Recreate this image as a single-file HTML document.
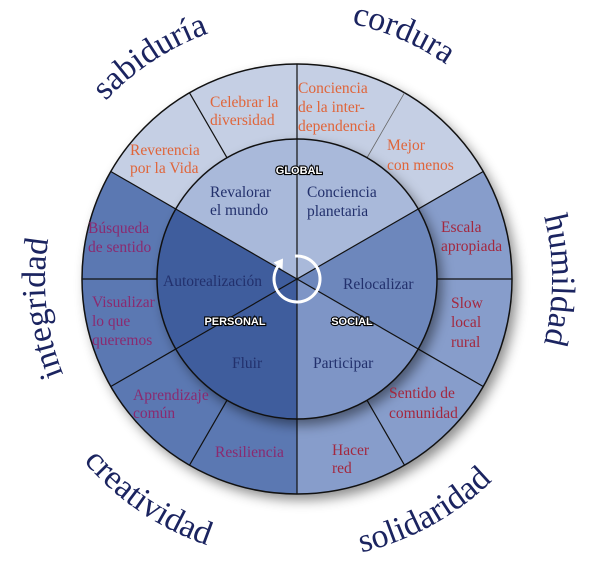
<!DOCTYPE html>
<html><head><meta charset="utf-8"><style>
html,body{margin:0;padding:0;background:#fff;}
svg{display:block;}
.o{font-family:"Liberation Serif",serif;font-size:15.5px;fill:#e0653a;}
.p{font-family:"Liberation Serif",serif;font-size:15.5px;fill:#8a2a70;}
.r{font-family:"Liberation Serif",serif;font-size:15.5px;fill:#a3283f;}
.n{font-family:"Liberation Serif",serif;font-size:15.5px;fill:#22306c;}
.b{font-family:"Liberation Sans",sans-serif;font-size:11px;font-weight:bold;fill:#fff;stroke:#000;stroke-width:2.2px;paint-order:stroke;text-anchor:middle;}
.w{font-family:"Liberation Serif",serif;font-size:34px;fill:#1b2460;}
</style></head><body>
<svg width="600" height="568" viewBox="0 0 600 568" xmlns="http://www.w3.org/2000/svg">
<defs>
<filter id="sh" x="-20%" y="-20%" width="150%" height="150%"><feDropShadow dx="5" dy="6" stdDeviation="6" flood-color="#000" flood-opacity="0.45"/></filter>
<path id="pTop" d="M 35 280 A 262 262 0 0 1 559 280"/>
<path id="pR" d="M 297 25 A 255 255 0 0 1 297 535"/>
<path id="pL" d="M 297 532 A 252 252 0 0 1 297 28"/>
<path id="pBot" d="M 17 280 A 280 280 0 0 0 577 280"/>
</defs>
<g id="wheel">
<circle cx="297" cy="279" r="215" fill="#c5cfe4" filter="url(#sh)"/>
<path d="M297 279 L110.8 171.5 A215 215 0 0 0 297 494 Z" fill="#5b78b2"/>
<path d="M297 279 L297 494 A215 215 0 0 0 483.2 171.5 Z" fill="#879dcb"/>
<circle cx="297" cy="279" r="215" fill="none" stroke="#111" stroke-width="1.5"/>
<g stroke="#111" stroke-width="1.2">
<line x1="297" y1="64" x2="297" y2="494"/>
<line x1="82" y1="279" x2="512" y2="279"/>
<line x1="189.5" y1="92.8" x2="404.5" y2="465.2"/>
<line x1="404.5" y1="92.8" x2="297" y2="279" stroke="#666" stroke-width="0.8"/>
<line x1="297" y1="279" x2="189.5" y2="465.2"/>
<line x1="110.8" y1="171.5" x2="483.2" y2="386.5"/>
<line x1="483.2" y1="171.5" x2="110.8" y2="386.5"/>
</g>
<circle cx="297" cy="279" r="140" fill="#a9b9da" filter="url(#sh)"/>
<path d="M297 279 L175.8 209 A140 140 0 0 0 297 419 Z" fill="#3f5d9d"/>
<path d="M297 279 L297 419 A140 140 0 0 0 418.2 349 Z" fill="#7e95c6"/>
<path d="M297 279 L418.2 349 A140 140 0 0 0 418.2 209 Z" fill="#6d87bc"/>
<path d="M297 279 L418.2 209 A140 140 0 0 0 175.8 209 Z" fill="#a9b9da"/>
<circle cx="297" cy="279" r="140" fill="none" stroke="#111" stroke-width="1.5"/>
<g stroke="#111" stroke-width="1.2">
<line x1="297" y1="139" x2="297" y2="419"/>
<line x1="175.8" y1="209" x2="418.2" y2="349"/>
<line x1="418.2" y1="209" x2="175.8" y2="349"/>
</g>
<path d="M278.2 265.8 A23 23 0 1 0 295 256.1" fill="none" stroke="#fff" stroke-width="3"/>
<path d="M283 258.5 L273.5 262.5 L282.5 269.5 Z" fill="#fff"/>
</g>
<text class="o"><tspan x="210" y="107">Celebrar la</tspan><tspan x="210" y="125">diversidad</tspan></text>
<text class="o"><tspan x="298" y="93">Conciencia</tspan><tspan x="298" y="112">de la inter-</tspan><tspan x="298" y="131">dependencia</tspan></text>
<text class="o"><tspan x="387" y="150">Mejor</tspan><tspan x="387" y="170">con menos</tspan></text>
<text class="o"><tspan x="130" y="155">Reverencia</tspan><tspan x="130" y="173">por la Vida</tspan></text>
<text class="p"><tspan x="88" y="233">Búsqueda</tspan><tspan x="88" y="252">de sentido</tspan></text>
<text class="p"><tspan x="92" y="307">Visualizar</tspan><tspan x="92" y="326">lo que</tspan><tspan x="92" y="345">queremos</tspan></text>
<text class="p"><tspan x="133" y="400">Aprendizaje</tspan><tspan x="133" y="418">común</tspan></text>
<text class="p"><tspan x="215" y="457">Resiliencia</tspan></text>
<text class="r"><tspan x="332" y="455">Hacer</tspan><tspan x="332" y="473">red</tspan></text>
<text class="r"><tspan x="389" y="398">Sentido de</tspan><tspan x="389" y="418">comunidad</tspan></text>
<text class="r"><tspan x="451" y="308">Slow</tspan><tspan x="451" y="327">local</tspan><tspan x="451" y="347">rural</tspan></text>
<text class="r"><tspan x="441" y="232">Escala</tspan><tspan x="441" y="251">apropiada</tspan></text>
<text class="n"><tspan x="210" y="197">Revalorar</tspan><tspan x="210" y="215">el mundo</tspan></text>
<text class="n"><tspan x="307" y="197">Conciencia</tspan><tspan x="307" y="216">planetaria</tspan></text>
<text class="n" x="163" y="286">Autorealización</text>
<text class="n" x="343" y="289">Relocalizar</text>
<text class="n" x="232" y="368">Fluir</text>
<text class="n" x="313" y="368">Participar</text>
<text class="b" x="299" y="174">GLOBAL</text>
<text class="b" x="235" y="325">PERSONAL</text>
<text class="b" x="352" y="325">SOCIAL</text>
<text class="w"><textPath href="#pTop" startOffset="31.5%" text-anchor="middle">sabiduría</textPath></text>
<text class="w"><textPath href="#pTop" startOffset="63%" text-anchor="middle">cordura</textPath></text>
<text class="w"><textPath href="#pR" startOffset="50%" text-anchor="middle">humildad</textPath></text>
<text class="w"><textPath href="#pL" startOffset="46.5%" text-anchor="middle">integridad</textPath></text>
<text class="w"><textPath href="#pBot" startOffset="31%" text-anchor="middle">creatividad</textPath></text>
<text class="w"><textPath href="#pBot" startOffset="66%" text-anchor="middle">solidaridad</textPath></text>
</svg>
</body></html>
